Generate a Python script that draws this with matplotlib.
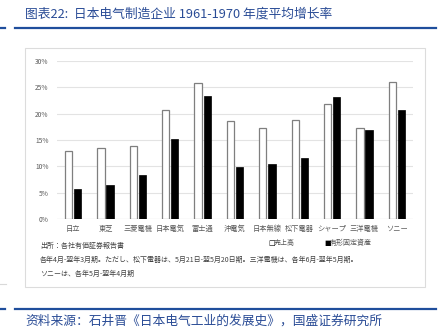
import matplotlib
matplotlib.use("Agg")
import matplotlib.pyplot as plt
import numpy as np
from matplotlib.lines import Line2D
from matplotlib.patches import Rectangle

plt.rcParams['font.family'] = ['Noto Sans CJK JP', 'DejaVu Sans']

companies = ["日立", "東芝", "三菱電機", "日本電気", "富士通", "沖電気",
             "日本無線", "松下電器", "シャープ", "三洋電機", "ソニー"]
sales = [12.9, 13.5, 13.8, 20.7, 25.7, 18.5, 17.3, 18.8, 21.9, 17.2, 26.0]
fixed_assets = [5.7, 6.4, 8.3, 15.1, 23.3, 9.9, 10.5, 11.6, 23.2, 16.9, 20.7]
yticks = [0, 5, 10, 15, 20, 25, 30]
ytick_labels = ["0%", "5%", "10%", "15%", "20%", "25%", "30%"]
series_names = ["売上高", "有形固定資産"]

title = "图表22:  日本电气制造企业 1961-1970 年度平均增长率"
source = "资料来源：石井晋《日本电气工业的发展史》，国盛证券研究所"
note1 = "出所：各社有価証券報告書"
note2 = "各年4月-翌年3月期。ただし、松下電器は、5月21日-翌5月20日期。三洋電機は、各年6月-翌年5月期。"
note3 = "ソニーは、各年5月-翌年4月期"

W, H = 442, 331
fig = plt.figure(figsize=(W / 100, H / 100), dpi=100)
fig.patch.set_facecolor("white")

def fx(px):
    return px / W

def fy(py):
    return 1 - py / H

blue = "#1f4e9c"
txtblue = "#2a4c96"
sc = ['Noto Sans CJK SC', 'DejaVu Sans']

# header / footer lines
for y in (28, 309):
    fig.add_artist(Line2D([fx(15), fx(436)], [fy(y), fy(y)], color=blue, lw=1.6))
    fig.add_artist(Line2D([fx(0), fx(5)], [fy(y), fy(y)], color=blue, lw=1.6))

fig.text(fx(25), fy(14), title, fontsize=9.2, color=txtblue, va="center", ha="left",
         family=sc)
fig.text(fx(25), fy(321), source, fontsize=9.2, color=txtblue, va="center", ha="left",
         family=sc)

# embedded chart box
box = Rectangle((fx(25), fy(287)), fx(425) - fx(25), fy(48) - fy(287),
                transform=fig.transFigure, facecolor="white",
                edgecolor="#dcdcdc", lw=0.8, zorder=-5)
fig.add_artist(box)
fig.add_artist(Line2D([fx(0), fx(6)], [fy(284), fy(284)], color="#d9d9d9", lw=0.8))

ax = fig.add_axes([fx(57), fy(219.3), fx(413) - fx(57), fy(60.7) - fy(219.3)])
ax.set_zorder(5)
ax.patch.set_alpha(0)
x = np.arange(len(companies))
bw = 0.225
off = 0.14
ax.bar(x - off, sales, bw, facecolor="white", edgecolor="#7f7f7f", lw=0.9, zorder=3,
       label=series_names[0])
ax.bar(x + off, fixed_assets, bw, facecolor="black", edgecolor="black", lw=0.5, zorder=3,
       label=series_names[1])
ax.set_xlim(-0.5, len(companies) - 0.5)
ax.set_ylim(0, 30)
ax.set_yticks(yticks)
ax.set_yticklabels(ytick_labels, fontsize=4.8, color="#595959")
ax.set_xticks(x)
ax.set_xticklabels(companies, fontsize=5.2, color="#595959")
ax.tick_params(length=0, pad=4)
ax.tick_params(axis="y", pad=6)
ax.grid(axis="y", color="#e3e3e3", lw=0.8, zorder=0)
for s in ax.spines.values():
    s.set_visible(False)
ax.axhline(0, color="#d0d0d0", lw=0.8, zorder=2)

# legend
fig.text(fx(268), fy(243), "□", fontsize=5, color="black", va="center", ha="left",
         family=['DejaVu Sans'], weight="bold")
fig.text(fx(274), fy(243), series_names[0], fontsize=5, color="#595959", va="center", ha="left")
fig.text(fx(324), fy(243), "■", fontsize=5, color="black", va="center", ha="left",
         family=['DejaVu Sans'])
fig.text(fx(330), fy(243), series_names[1], fontsize=5, color="#595959", va="center", ha="left")

fig.text(fx(40), fy(246), note1, fontsize=5, color="#404040", va="center", ha="left")
fig.text(fx(40), fy(260), note2, fontsize=5, color="#404040", va="center", ha="left")
fig.text(fx(40), fy(274), note3, fontsize=5, color="#404040", va="center", ha="left")

fig.savefig("out.png", dpi=100, facecolor="white")
